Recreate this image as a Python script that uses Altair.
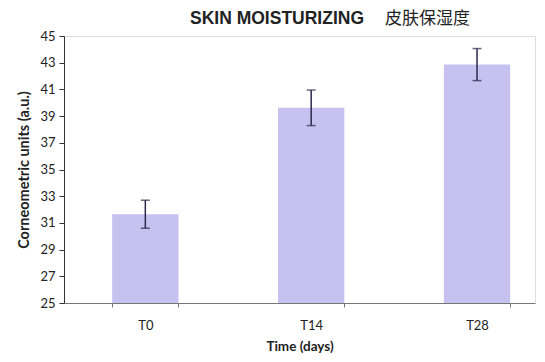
import altair as alt
import pandas as pd

categories = ["T0", "T14", "T28"]
values = [31.65, 39.62, 42.86]
errors = [1.05, 1.33, 1.2]

title_en = "SKIN MOISTURIZING"
title_zh = "皮肤保湿度"
y_ticks = [25, 27, 29, 31, 33, 35, 37, 39, 41, 43, 45]
y_base = 25

df = pd.DataFrame({
    "time": categories,
    "value": values,
    "err": errors,
})
df["lo"] = df["value"] - df["err"]
df["hi"] = df["value"] + df["err"]

FONT = "Lato"
x_enc = alt.X(
    "time:N",
    sort=categories,
    title="Time (days)",
    scale=alt.Scale(paddingInner=0.6, paddingOuter=0.22, align=0.66),
    axis=alt.Axis(
        labelAngle=0, labelFont=FONT, labelFontSize=13, labelColor="#222",
        labelPadding=12, titleFont=FONT, titleFontSize=13.5, titleFontWeight="bold",
        titleColor="#222", titlePadding=7, domainColor="#777", domainWidth=1,
        tickColor="#777", tickSize=4, tickBand="extent",
    ),
)

y_scale = alt.Scale(domain=[25, 45], nice=False, zero=False)
y_axis = alt.Axis(
    values=y_ticks, grid=False, labelOverlap=False, labelFont=FONT,
    labelFontSize=13, labelColor="#222", labelPadding=4, titleFont=FONT,
    titleFontSize=14.5, titleFontWeight="bold", titleColor="#222",
    titlePadding=8, domainColor="#333", tickColor="#333", tickSize=5,
)
Y_TITLE = "Corneometric units (a.u.)"

base = alt.Chart(df)

bars = base.mark_bar(color="#c7c1ef").encode(
    x=x_enc,
    y=alt.Y("value:Q", title=Y_TITLE, scale=y_scale, axis=y_axis),
    y2=alt.datum(y_base),
)

rules = base.mark_rule(color="#2a2a4a", strokeWidth=1.5).encode(
    x=x_enc,
    y=alt.Y("lo:Q", title=Y_TITLE, scale=y_scale, axis=y_axis),
    y2="hi:Q",
)

caps_top = base.mark_tick(color="#2a2a4a", thickness=1.5, size=9, orient="horizontal").encode(
    x=x_enc,
    y=alt.Y("hi:Q", title=Y_TITLE, scale=y_scale, axis=y_axis),
)
caps_bot = base.mark_tick(color="#2a2a4a", thickness=1.5, size=9, orient="horizontal").encode(
    x=x_enc,
    y=alt.Y("lo:Q", title=Y_TITLE, scale=y_scale, axis=y_axis),
)

t_en = alt.Chart(pd.DataFrame({"t": [title_en]})).mark_text(
    font="Liberation Sans", fontSize=17.5, fontWeight="bold", align="left",
    baseline="middle", color="#222",
).encode(text="t:N", x=alt.value(126), y=alt.value(-17))

t_zh = alt.Chart(pd.DataFrame({"t": [title_zh]})).mark_text(
    font="Noto Sans CJK SC", fontSize=17, align="left", baseline="middle",
    color="#222",
).encode(text="t:N", x=alt.value(321), y=alt.value(-17))

chart = alt.layer(bars, rules, caps_top, caps_bot, t_en, t_zh).properties(
    width=471, height=267,
    autosize=alt.AutoSizeParams(type="none"),
    padding={"left": 56, "top": 28, "right": 2, "bottom": 57},
).configure_view(stroke=None).configure(background="white")

chart.save("out.html", embed_options={"renderer": "svg", "actions": False})
